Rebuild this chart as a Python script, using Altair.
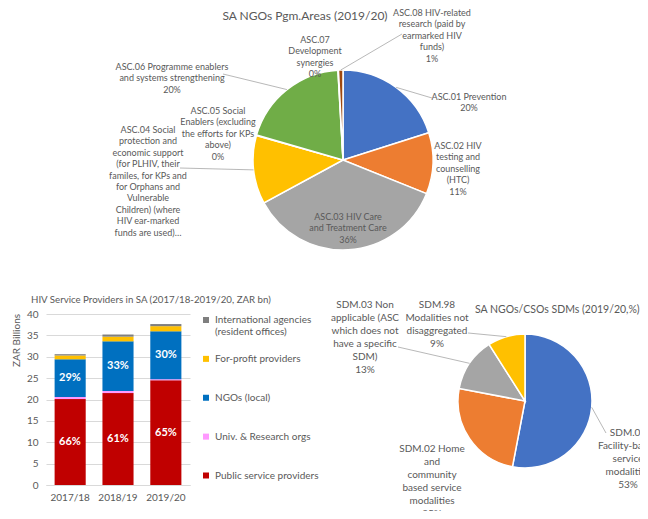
import altair as alt
import pandas as pd

FONT = "Lato"
TXT = "#595959"

# ---------------- data ----------------
# Bar chart: HIV service providers (ZAR bn)
years = ["2017/18", "2018/19", "2019/20"]
providers = ["Public service providers", "Univ. & Research orgs", "NGOs (local)",
             "For-profit providers", "International agencies"]
provider_colors = ["#C00000", "#FF99FF", "#0070C0", "#FFC000", "#7F7F7F"]
legend_order = ["International agencies", "For-profit providers", "NGOs (local)",
                "Univ. & Research orgs", "Public service providers"]
legend_text = ["International agencies\n(resident offices)", "For-profit providers",
               "NGOs (local)", "Univ. & Research orgs", "Public service providers"]
public_vals = [20.1, 21.5, 24.5]
univ_vals = [0.5, 0.5, 0.25]
ngo_vals = [8.8, 11.6, 11.2]
forprofit_vals = [0.9, 1.1, 1.2]
intl_vals = [0.3, 0.5, 0.5]
labelled_providers = ["Public service providers", "NGOs (local)"]
y_ticks = [0, 5, 10, 15, 20, 25, 30, 35, 40]

# Top pie: programme areas
asc_codes = ["ASC.01", "ASC.02", "ASC.03", "ASC.04", "ASC.05", "ASC.06", "ASC.07", "ASC.08"]
asc_share = [20.1, 11.0, 36.0, 12.3, 0.1, 19.6, 0.1, 0.8]
asc_labels = [
    "ASC.01 Prevention\n20%",
    "ASC.02 HIV\ntesting and\ncounselling\n(HTC)\n11%",
    "ASC.03 HIV Care\nand Treatment Care\n36%",
    "ASC.04 Social\nprotection and\neconomic support\n(for PLHIV, their\nfamiles, for KPs and\nfor Orphans and\nVulnerable\nChildren) (where\nHIV ear-marked\nfunds are used)…",
    "ASC.05 Social\nEnablers (excluding\nthe efforts for KPs\nabove)\n0%",
    "ASC.06 Programme enablers\nand systems strengthening\n20%",
    "ASC.07\nDevelopment\nsynergies\n0%",
    "ASC.08 HIV-related\nresearch (paid by\nearmarked HIV\nfunds)\n1%",
]
office_colors = ["#4472C4", "#ED7D31", "#A5A5A5", "#FFC000", "#5B9BD5", "#70AD47", "#264478", "#9E480E"]

# Bottom-right pie: service delivery modalities
sdm_codes = ["SDM.01", "SDM.02", "SDM.03", "SDM.98"]
sdm_share = [53, 25, 13, 9]
sdm_labels = [
    "SDM.01\nFacility-based\nservice\nmodalities\n53%",
    "SDM.02 Home\nand\ncommunity\nbased service\nmodalities\n25%",
    "SDM.03 Non\napplicable (ASC\nwhich does not\nhave a specific\nSDM)\n13%",
    "SDM.98\nModalities not\ndisaggregated\n9%",
]
sdm_colors = ["#4472C4", "#ED7D31", "#A5A5A5", "#FFC000"]

titles = ["SA NGOs Pgm.Areas (2019/20)",
          "HIV Service Providers in SA (2017/18-2019/20, ZAR bn)",
          "SA NGOs/CSOs SDMs (2019/20,%)"]

# ---------------- layout (page pixels) ----------------
OX, OY = 46, 314          # top-left of the bar plot area on the page
PLOT_W, PLOT_H = 144, 171
PIE1 = (343, 160, 90)
PIE2 = (525, 401, 67)
asc_label_pos = [(469, 97), (458, 146), (348, 217), (148, 130), (218, 111),
                 (172, 67), (315, 40), (432, 13)]
asc_leader_end = {"ASC.01": (432, 98), "ASC.04": (180, 168), "ASC.06": (223, 74), "ASC.08": (402, 34)}
sdm_label_pos = [(628, 432), (432, 448), (365, 304), (437, 304)]
sdm_leader_end = {"SDM.01": (606, 433), "SDM.03": (398, 347), "SDM.98": (468, 333)}
title_pos = [((305, 16), "center", 12), ((31, 300), "left", 9.7), ((475, 310), "left", 10.5)]
legend_sq_x, legend_txt_x, legend_y = 206, 215, (320, 475.5)

# ---------------- bar chart ----------------
rows = []
for i, y in enumerate(years):
    for k, (p, vals) in enumerate(zip(providers, [public_vals, univ_vals, ngo_vals, forprofit_vals, intl_vals])):
        rows.append({"year": y, "provider": p, "value": vals[i], "ord": k})
bar_df = pd.DataFrame(rows)

xscale = alt.Scale(domain=years, paddingInner=0.35, paddingOuter=0.18)
color_scale = alt.Scale(domain=providers, range=provider_colors)

bars = alt.Chart(bar_df).mark_bar().encode(
    x=alt.X("year:N", sort=years, scale=xscale,
            axis=alt.Axis(title=None, labelAngle=0, ticks=False, tickSize=0, domainColor="#D9D9D9",
                          labelPadding=7, labelFont=FONT, labelFontSize=10, labelColor=TXT, grid=False)),
    y=alt.Y("value:Q", stack="zero", scale=alt.Scale(domain=[0, 40], nice=False),
            axis=alt.Axis(values=y_ticks, title="ZAR Billions", ticks=False, tickSize=0, domain=False,
                          labelPadding=8, labelFont=FONT, labelFontSize=10, labelColor=TXT,
                          gridColor="#D9D9D9", titleFont=FONT, titleFontSize=10, titleColor=TXT,
                          titleFontWeight="normal", titleAngle=-90, titleX=16 - OX, titleY=340 - OY,
                          titleAlign="center", titleBaseline="middle")),
    color=alt.Color("provider:N", scale=color_scale, legend=None),
    order=alt.Order("ord:Q"),
)

pct = alt.Chart(bar_df).transform_joinaggregate(
    total="sum(value)", groupby=["year"]
).transform_window(
    cum="sum(value)", sort=[alt.SortField("ord")], groupby=["year"], frame=[None, 0]
).transform_calculate(
    mid="datum.cum - datum.value / 2", pct="format(datum.value / datum.total, '.0%')"
).transform_filter(
    alt.FieldOneOfPredicate(field="provider", oneOf=labelled_providers)
).mark_text(font=FONT, fontSize=11, fontWeight="bold", color="white").encode(
    x=alt.X("year:N", sort=years, scale=xscale, axis=None),
    y=alt.Y("mid:Q", scale=alt.Scale(domain=[0, 40], nice=False), axis=None),
    text="pct:N",
)

leg_df = pd.DataFrame({"provider": legend_order, "label": legend_text})
leg_y = alt.Y("provider:N", sort=legend_order,
              scale=alt.Scale(type="point", domain=legend_order, padding=0,
                              range=[legend_y[0] - OY, legend_y[1] - OY]), axis=None)
leg_sq = alt.Chart(leg_df).mark_square(size=36, opacity=1).encode(
    x=alt.value(legend_sq_x - OX), y=leg_y,
    color=alt.Color("provider:N", scale=color_scale, legend=None),
)
leg_txt = alt.Chart(leg_df).mark_text(align="left", baseline="top", dy=-5, lineBreak="\n", lineHeight=12,
                                      font=FONT, fontSize=10, color=TXT).encode(
    x=alt.value(legend_txt_x - OX), y=leg_y, text="label:N",
)

# ---------------- titles ----------------
title_layers = []
for t, ((px, py), al, fs) in zip(titles, title_pos):
    title_layers.append(
        alt.Chart(pd.DataFrame({"t": [t]})).mark_text(align=al, baseline="middle", font=FONT,
                                                      fontSize=fs, color=TXT).encode(
            x=alt.value(px - OX), y=alt.value(py - OY), text="t:N"))


# ---------------- pies ----------------
def pie_layers(codes, shares, colors, labels, center, label_pos, leader_end, fs, lh):
    cx, cy, r = center
    df = pd.DataFrame({"code": codes, "share": shares, "ord": list(range(len(codes)))})
    arcs = alt.Chart(df).mark_arc(radius=r, stroke="white", strokeWidth=1.5).encode(
        theta=alt.Theta("share:Q", stack=True),
        color=alt.Color("code:N", scale=alt.Scale(domain=codes, range=colors), legend=None),
        order=alt.Order("ord:Q"),
        x=alt.value(cx - OX), y=alt.value(cy - OY),
    )
    lab = pd.DataFrame({"text": labels,
                        "lx": [p[0] - OX for p in label_pos],
                        "ly": [p[1] - OY - 4 for p in label_pos]})
    texts = alt.Chart(lab).mark_text(align="center", baseline="top", lineBreak="\n", lineHeight=lh,
                                     font=FONT, fontSize=fs, color=TXT).encode(
        x=alt.X("lx:Q", scale=None, axis=None), y=alt.Y("ly:Q", scale=None, axis=None), text="text:N")
    ld = df.copy()
    ld["ex"] = [leader_end[c][0] - OX if c in leader_end else None for c in codes]
    ld["ey"] = [leader_end[c][1] - OY if c in leader_end else None for c in codes]
    lines = alt.Chart(ld).transform_joinaggregate(
        total="sum(share)"
    ).transform_window(
        cum="sum(share)", sort=[alt.SortField("ord")], frame=[None, 0]
    ).transform_filter(
        "isValid(datum.ex)"
    ).transform_calculate(
        ang="2 * PI * (datum.cum - datum.share / 2) / datum.total"
    ).transform_calculate(
        sx=f"{cx - OX} + {r} * sin(datum.ang)", sy=f"{cy - OY} - {r} * cos(datum.ang)"
    ).mark_rule(color="#A6A6A6", strokeWidth=0.8).encode(
        x=alt.X("sx:Q", scale=None, axis=None), y=alt.Y("sy:Q", scale=None, axis=None),
        x2="ex:Q", y2="ey:Q")
    return [arcs, lines, texts]


pie1 = pie_layers(asc_codes, asc_share, office_colors, asc_labels, PIE1, asc_label_pos,
                  asc_leader_end, 9, 11.4)
pie2 = pie_layers(sdm_codes, sdm_share, sdm_colors, sdm_labels, PIE2, sdm_label_pos,
                  sdm_leader_end, 10, 13)

chart = alt.layer(bars, pct, leg_sq, leg_txt, *title_layers, *pie1, *pie2).resolve_scale(
    x="independent", y="independent", color="independent", theta="independent"
).properties(
    width=PLOT_W, height=PLOT_H,
    autosize=alt.AutoSizeParams(type="none"),
    padding={"left": OX - 8, "top": OY - 8, "right": 632 - (OX - 8) - PLOT_W,
             "bottom": 503 - (OY - 8) - PLOT_H},
).configure_view(stroke=None)

chart.save("out.html", embed_options={"renderer": "svg", "actions": False})
